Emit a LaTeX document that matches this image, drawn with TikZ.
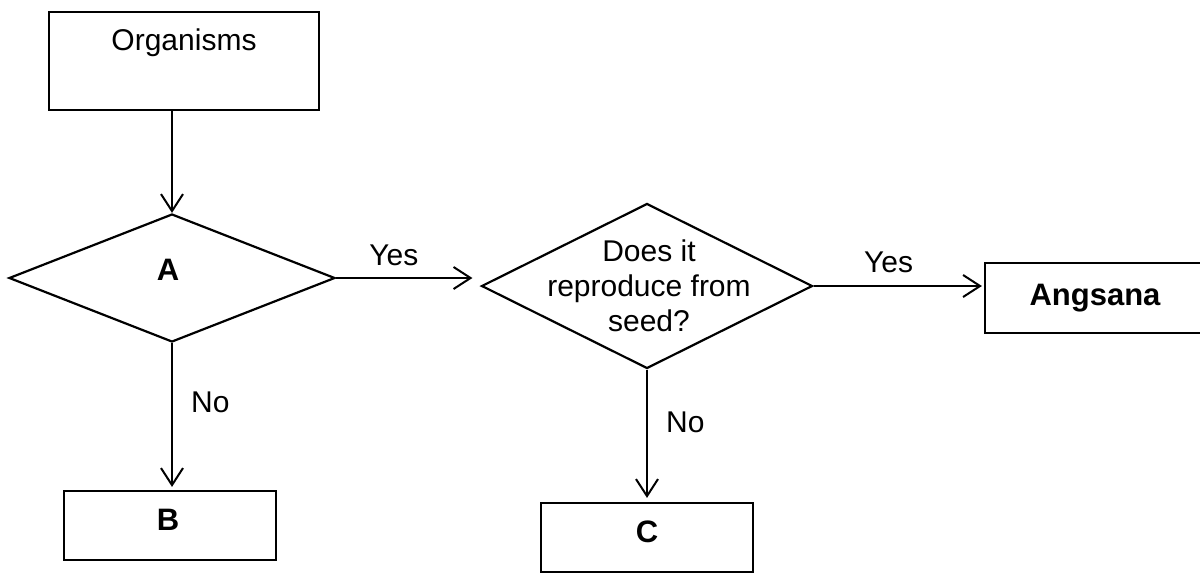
\documentclass[tikz,border=0pt]{standalone}
\usepackage{fontspec}
\setmainfont{Liberation Sans}
\usetikzlibrary{shapes.geometric,arrows.meta}
\begin{document}
\begin{tikzpicture}[x=1pt,y=-1pt,
  line width=2.2pt,
  box/.style={draw,rectangle,inner sep=0pt},
  dia/.style={draw,diamond,inner sep=0pt},
  txt/.style={font=\fontsize{30}{35}\selectfont,inner sep=0pt},
  btxt/.style={font=\fontsize{31}{35}\selectfont\bfseries,inner sep=0pt},
  arr/.style={-{Straight Barb[length=17pt,width=22pt,line width=2pt]}},
]
\useasboundingbox (0,0) rectangle (1200,574);
\clip (0,0) rectangle (1200,574);
\fill[white] (0,0) rectangle (1200,574);

\node[box,minimum width=270pt,minimum height=98pt] (org) at (184,61) {};
\node[txt,anchor=base] (orgt) at (184,50) {Organisms};

\node[dia,minimum width=326pt,minimum height=128pt] (dA) at (172,278) {};
\node[btxt,anchor=base] (dAt) at (168,280) {A};

\node[dia,minimum width=331pt,minimum height=165pt] (d2) at (647,286) {};
\node[txt,align=center] (d2t) at (649,286) {Does it\\reproduce from\\seed?};

\node[box,minimum width=230pt,minimum height=70pt] (ang) at (1100,298) {};
\node[btxt,anchor=base] (angt) at (1095,305) {Angsana};

\node[box,minimum width=212pt,minimum height=69pt] (B) at (170,525.5) {};
\node[btxt,anchor=base] (Bt) at (168,530) {B};

\node[box,minimum width=212pt,minimum height=69pt] (C) at (647,537.5) {};
\node[btxt,anchor=base] (Ct) at (647,542) {C};

\draw[arr] (dA.north |- org.south) -- (dA.north);
\draw[arr,shorten >=8pt] (dA.east) -- (dA.east -| d2.west)
  node[txt,pos=0.4,above=11pt] (y1) {Yes};
\draw[arr,shorten >=2pt] (d2.east) -- (d2.east -| ang.west)
  node[txt,pos=0.44,above=12pt] (y2) {Yes};
\draw[arr,shorten >=3pt] (dA.south) -- (dA.south |- B.north)
  node[txt,pos=0.4,right=18pt] (n1) {No};
\draw[arr,shorten >=4pt] (d2.south) -- (d2.south |- C.north)
  node[txt,pos=0.4,right=18pt] (n2) {No};
\end{tikzpicture}
\end{document}
